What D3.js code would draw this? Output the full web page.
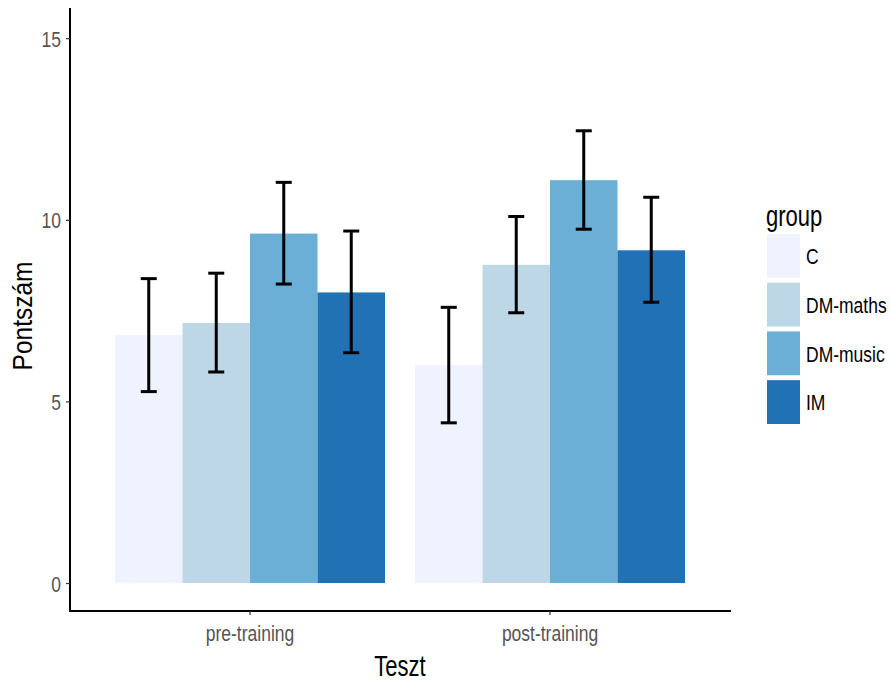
<!DOCTYPE html>
<html><head><meta charset="utf-8">
<script src="https://cdn.jsdelivr.net/npm/d3@7"></script>
<style>body{margin:0;background:#fff}svg{display:block}text{font-family:"Liberation Sans",Arial,sans-serif}</style>
</head><body>
<svg id="c" width="891" height="682"></svg>
<script>
const tests = ["pre-training", "post-training"];
const groups = ["C", "DM-maths", "DM-music", "IM"];
const colors = ["#eff3ff", "#bdd7e7", "#6baed6", "#2171b5"];
const preMeans = [6.83, 7.16, 9.62, 8.00];
const preLow = [5.27, 5.81, 8.23, 6.34];
const preHigh = [8.38, 8.53, 11.03, 9.69];
const postMeans = [6.00, 8.76, 11.09, 9.16];
const postLow = [4.41, 7.44, 9.74, 7.73];
const postHigh = [7.59, 10.09, 12.45, 10.62];
const yTicks = [0, 5, 10, 15];

const data = [];
groups.forEach((g, i) => {
  data.push({test: tests[0], group: g, mean: preMeans[i], lo: preLow[i], hi: preHigh[i]});
  data.push({test: tests[1], group: g, mean: postMeans[i], lo: postLow[i], hi: postHigh[i]});
});

const SY = 1.3; // text appears vertically stretched in the reference
const svg = d3.select("#c");
const pLeft = 70, pRight = 730, pTop = 8, pBottom = 611;
const y = d3.scaleLinear().domain([-0.77, 15.83]).range([pBottom, pTop]);
const x0 = d3.scaleBand().domain(tests).range([pLeft, pRight]).paddingInner(0).paddingOuter(0.1);
const x1 = d3.scaleBand().domain(groups).range([x0.bandwidth() * 0.05, x0.bandwidth() * 0.95]);
const color = d3.scaleOrdinal().domain(groups).range(colors);

// bars
svg.append("g").selectAll("rect").data(data).join("rect")
  .attr("x", d => x0(d.test) + x1(d.group))
  .attr("width", x1.bandwidth())
  .attr("y", d => y(d.mean))
  .attr("height", d => y(0) - y(d.mean))
  .attr("fill", d => color(d.group));

// error bars
const eb = svg.append("g").attr("stroke", "#000").attr("stroke-width", 3);
const cx = d => x0(d.test) + x1(d.group) + x1.bandwidth() / 2;
eb.selectAll("line.v").data(data).join("line").attr("class", "v")
  .attr("x1", cx).attr("x2", cx).attr("y1", d => y(d.lo)).attr("y2", d => y(d.hi));
eb.selectAll("line.t").data(data).join("line").attr("class", "t")
  .attr("x1", d => cx(d) - 8).attr("x2", d => cx(d) + 8).attr("y1", d => y(d.hi)).attr("y2", d => y(d.hi));
eb.selectAll("line.b").data(data).join("line").attr("class", "b")
  .attr("x1", d => cx(d) - 8).attr("x2", d => cx(d) + 8).attr("y1", d => y(d.lo)).attr("y2", d => y(d.lo));

// axes
const yAxis = svg.append("g").attr("transform", `translate(${pLeft},0)`)
  .call(d3.axisLeft(y).tickValues(yTicks).tickSize(4));
yAxis.select(".domain").attr("stroke-width", 2).attr("d", `M0,${pTop}V${pBottom}`);
yAxis.selectAll(".tick line").attr("stroke", "#333").attr("stroke-width", 1.2);
yAxis.selectAll(".tick text").attr("fill", "#555").style("font-size", "17.5px")
  .attr("x", 0).attr("y", 0).attr("dy", null)
  .attr("transform", `translate(-9,${0.358 * 17.5 * SY}) scale(1,${SY})`);

const xAxis = svg.append("g").attr("transform", `translate(0,${pBottom})`)
  .call(d3.axisBottom(x0).tickSize(4));
xAxis.select(".domain").attr("stroke-width", 2).attr("d", `M${pLeft - 1},0H${pRight + 1}`);
xAxis.selectAll(".tick line").attr("stroke", "#333").attr("stroke-width", 1.2);
xAxis.selectAll(".tick text").attr("fill", "#555").style("font-size", "17.5px")
  .attr("y", 0).attr("dy", null)
  .attr("transform", `translate(0,30) scale(1,${SY})`);

// axis titles
svg.append("text").attr("transform", `translate(400,676) scale(1,${SY})`).attr("text-anchor", "middle")
  .style("font-size", "22px").attr("fill", "#000").text("Teszt");
svg.append("text").attr("transform", "translate(32,316) rotate(-90) scale(1,1.15)").attr("text-anchor", "middle")
  .style("font-size", "24.5px").attr("fill", "#000").text("Pontszám");

// legend
const lg = svg.append("g");
lg.append("text").attr("transform", `translate(766,226) scale(1,${SY})`)
  .style("font-size", "22px").attr("fill", "#000").text("group");
const keyY = d3.scaleBand().domain(groups).range([234, 424]).paddingInner(0.1);
lg.selectAll("rect").data(groups).join("rect")
  .attr("x", 767).attr("width", 33).attr("y", d => keyY(d)).attr("height", keyY.bandwidth())
  .attr("fill", d => color(d));
lg.selectAll("text.l").data(groups).join("text").attr("class", "l")
  .attr("transform", d => `translate(806,${keyY(d) + keyY.bandwidth() / 2 + 0.358 * 17.5 * SY}) scale(1,${SY})`)
  .style("font-size", "17.5px").attr("fill", "#000").text(d => d);
</script>
</body></html>
